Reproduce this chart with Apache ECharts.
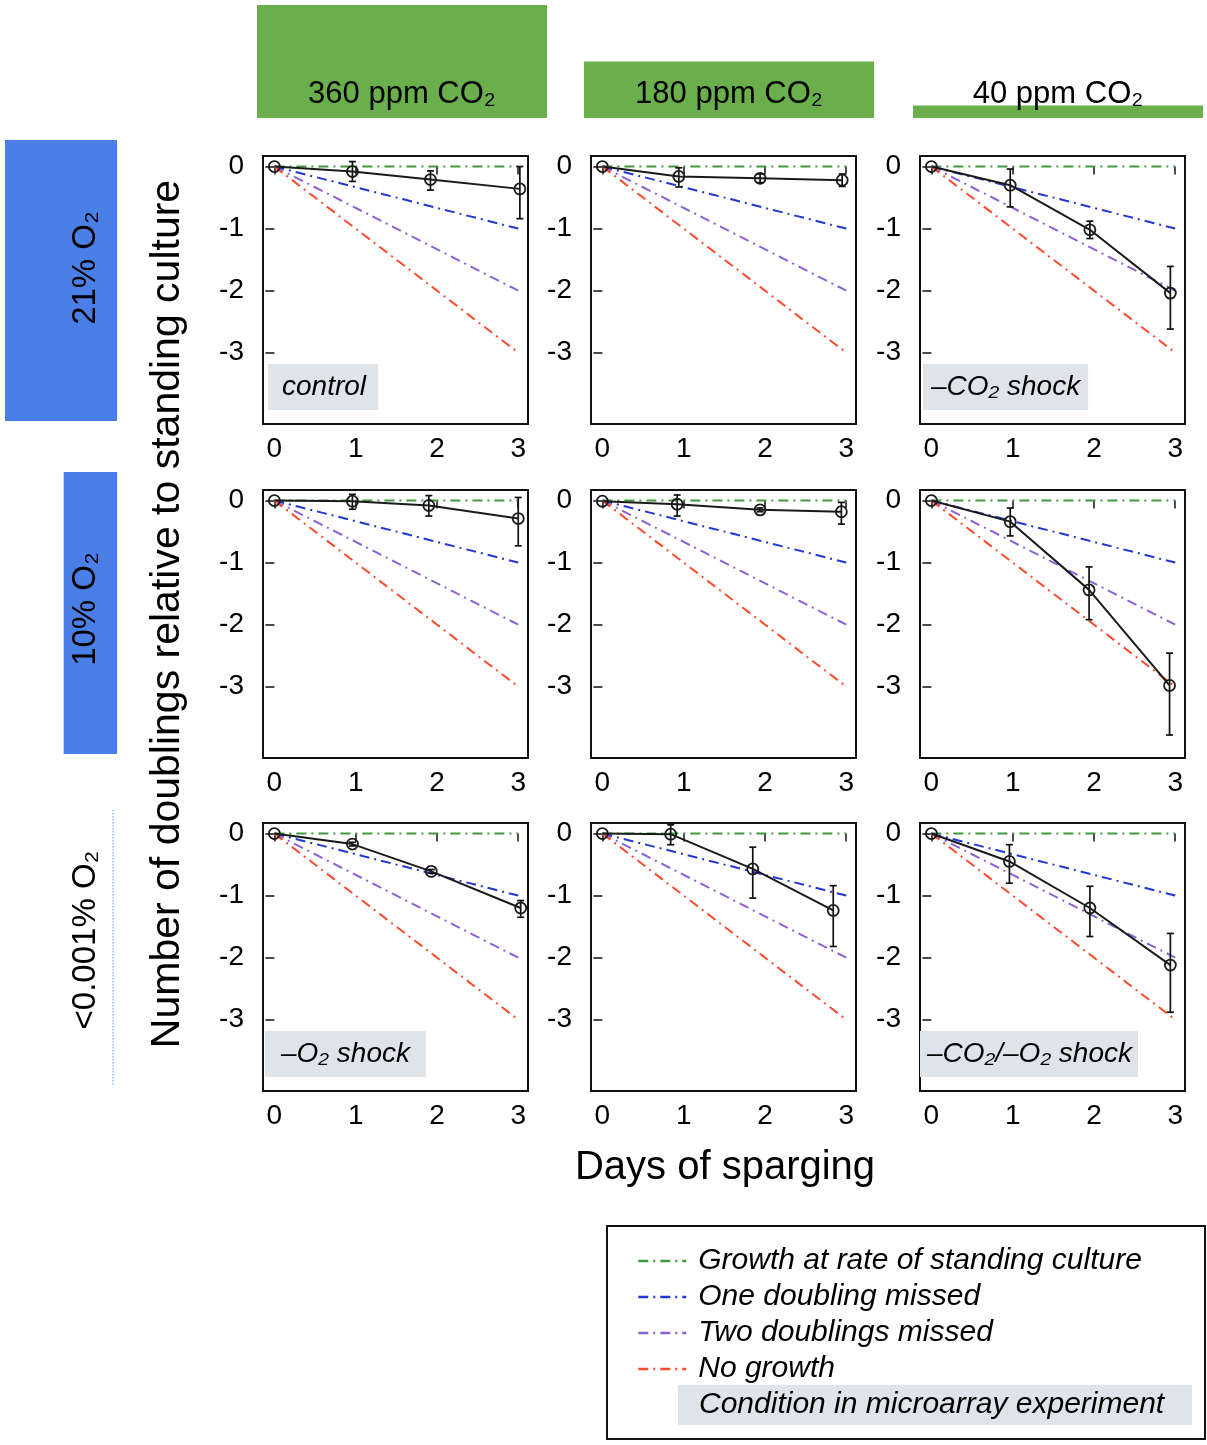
<!DOCTYPE html>
<html>
<head>
<meta charset="utf-8">
<script src="https://cdn.jsdelivr.net/npm/echarts@6/dist/echarts.min.js"></script>
<style>
html,body{margin:0;padding:0;background:#fff;}
#chart{width:1207px;height:1445px;}
</style>
</head>
<body>
<div id="chart"></div>
<script>
// ---------- data ----------
const co2Labels = ['360 ppm CO₂', '180 ppm CO₂', '40 ppm CO₂'];
const co2ppm = [360, 180, 40];
const o2Labels = ['21% O₂', '10% O₂', '<0.001% O₂'];
const o2pct = [21, 10, 0.001];
const xTicks = [0, 1, 2, 3];
const yTicks = [0, -1, -2, -3];

// reference lines: [day, doublings]
const refGrowth = [[0, 0], [3, 0]];
const refOne = [[0, 0], [3, -1]];
const refTwo = [[0, 0], [3, -2]];
const refNone = [[0, 0], [3, -3]];
const refNames = ['Growth at rate of standing culture', 'One doubling missed', 'Two doublings missed', 'No growth'];
const refColors = ['#3f9a3c', '#2237d4', '#8b62d6', '#ff4b2b'];

// measured points: [day, mean, lower error, upper error]
const panel21_360 = [[0, 0, 0, 0], [0.96, -0.08, -0.24, 0.08], [1.92, -0.21, -0.38, -0.07], [3.02, -0.36, -0.84, 0.0]];
const panel21_180 = [[0, 0, 0, 0], [0.94, -0.16, -0.33, -0.02], [1.94, -0.19, -0.26, -0.12], [2.95, -0.22, -0.32, -0.12]];
const panel21_40 = [[0, 0, 0, 0], [0.97, -0.30, -0.65, -0.04], [1.95, -1.02, -1.16, -0.88], [2.94, -2.04, -2.62, -1.61]];
const panel10_360 = [[0, 0, 0, 0], [0.96, -0.01, -0.14, 0.10], [1.90, -0.08, -0.25, 0.08], [3.00, -0.29, -0.73, 0.05]];
const panel10_180 = [[0, -0.01, -0.01, -0.01], [0.92, -0.06, -0.25, 0.09], [1.94, -0.15, -0.18, -0.12], [2.94, -0.18, -0.38, -0.03]];
const panel10_40 = [[0, 0, 0, 0], [0.97, -0.34, -0.57, -0.12], [1.94, -1.44, -1.92, -1.07], [2.93, -2.98, -3.78, -2.46]];
const panel0_360 = [[0, 0, 0, 0], [0.96, -0.17, -0.20, -0.14], [1.93, -0.61, -0.64, -0.58], [3.03, -1.20, -1.35, -1.08]];
const panel0_180 = [[0, 0, 0, 0], [0.84, -0.01, -0.18, 0.14], [1.85, -0.57, -1.04, -0.22], [2.84, -1.24, -1.82, -0.84]];
const panel0_40 = [[0, 0, 0, 0], [0.96, -0.45, -0.80, -0.18], [1.95, -1.20, -1.66, -0.85], [2.94, -2.12, -2.88, -1.61]];
const panelNotes = ['control', '', '–CO₂ shock', '', '', '', '–O₂ shock', '', '–CO₂/–O₂ shock'];
const legendExtra = 'Condition in microarray experiment';

// ---------- layout ----------
const FONT = "'Liberation Sans', Arial, Helvetica, sans-serif";
const panels = [panel21_360, panel21_180, panel21_40, panel10_360, panel10_180, panel10_40, panel0_360, panel0_180, panel0_40];
const refs = [refGrowth, refOne, refTwo, refNone];
const colLeft = [263, 591, 920];
const rowTop = [156, 490, 823];
const GW = 265, GH = 268;
const noteLayout = [
  {dx: 5, pad: [9, 12, 8, 14]}, null, {dx: 3, pad: [9, 8, 8, 8]},
  null, null, null,
  {dx: 2, pad: [9, 16, 8, 16]}, null, {dx: 0, pad: [9, 6, 8, 7]}
];

const grids = [], xAxes = [], yAxes = [], series = [], graphics = [];

panels.forEach((pd, i) => {
  const r = Math.floor(i / 3), c = i % 3;
  grids.push({left: colLeft[c], top: rowTop[r], width: GW, height: GH,
    show: true, borderColor: '#111', borderWidth: 2, backgroundColor: '#fff', containLabel: false});
  xAxes.push({type: 'value', gridIndex: i, min: -0.14, max: 3.12,
    axisLine: {show: false}, splitLine: {show: false},
    axisTick: {show: true, customValues: xTicks, length: 8, lineStyle: {color: '#111', width: 1.5}},
    axisLabel: {customValues: xTicks, fontSize: 28, fontFamily: FONT, color: '#000', margin: 11}});
  yAxes.push({type: 'value', gridIndex: i, min: -4.15, max: 0.17,
    axisLine: {show: false}, splitLine: {show: false},
    axisTick: {show: true, customValues: yTicks, length: 9, lineStyle: {color: '#111', width: 1.5}},
    axisLabel: {customValues: yTicks, fontSize: 28, fontFamily: FONT, color: '#000', margin: 19}});

  refs.forEach((rd, k) => {
    series.push({type: 'line', name: refNames[k], xAxisIndex: i, yAxisIndex: i, data: rd,
      symbol: 'none', silent: true, z: 2,
      lineStyle: {color: refColors[k], width: 2, type: [10, 5, 2, 5]},
      itemStyle: {color: refColors[k]}});
  });
  series.push({type: 'custom', name: 'err' + i, xAxisIndex: i, yAxisIndex: i, z: 4, silent: true,
    data: pd.map(p => [p[0], p[2], p[3]]),
    encode: {x: 0, y: [1, 2]},
    renderItem: function (params, api) {
      const x = api.value(0), lo = api.value(1), hi = api.value(2);
      if (lo === hi) return null;
      const a = api.coord([x, hi]), b = api.coord([x, lo]);
      const w = 3.5, st = {stroke: '#111', lineWidth: 1.7};
      return {type: 'group', children: [
        {type: 'line', shape: {x1: a[0], y1: a[1], x2: b[0], y2: b[1]}, style: st},
        {type: 'line', shape: {x1: a[0] - w, y1: a[1], x2: a[0] + w, y2: a[1]}, style: st},
        {type: 'line', shape: {x1: b[0] - w, y1: b[1], x2: b[0] + w, y2: b[1]}, style: st}
      ]};
    }});
  series.push({type: 'line', name: 'mean' + i, xAxisIndex: i, yAxisIndex: i, z: 5, silent: true,
    data: pd.map(p => [p[0], p[1]]),
    symbol: 'circle', symbolSize: 11,
    lineStyle: {color: '#1a1a1a', width: 2},
    itemStyle: {color: 'rgba(255,255,255,0)', borderColor: '#1a1a1a', borderWidth: 1.8}});

  if (panelNotes[i]) {
    const nl = noteLayout[i];
    graphics.push({type: 'text', x: colLeft[c] + nl.dx, y: rowTop[r] + 208, z: 3,
      style: {text: panelNotes[i], fontSize: 28, fontStyle: 'italic', fontFamily: FONT, fill: '#000',
        backgroundColor: '#dfe4ea', padding: nl.pad, lineHeight: 29}});
  }
});

// CO2 header boxes (height proportional to ppm)
const headLeft = [257, 584, 913], headW = 290, headBottom = 118, headScale = 113 / 360;
co2ppm.forEach((v, k) => {
  const h = v * headScale;
  graphics.push({type: 'rect', shape: {x: headLeft[k], y: headBottom - h, width: headW, height: h},
    style: {fill: '#6aaf4c'}});
  graphics.push({type: 'text', x: headLeft[k] + headW / 2, y: 94, z: 10,
    style: {text: co2Labels[k], fontSize: 31, fontFamily: FONT, fill: '#000', align: 'center', verticalAlign: 'middle'}});
});

// O2 side boxes (width proportional to percent)
const sideRight = 117, sideScale = 112 / 21;
const sideTop = [140, 472, 810], sideH = [281, 282, 275];
o2pct.forEach((v, k) => {
  const w = v * sideScale;
  if (w > 2) {
    graphics.push({type: 'rect', shape: {x: sideRight - w, y: sideTop[k], width: w, height: sideH[k]},
      style: {fill: '#4b7fe8'}});
  } else {
    graphics.push({type: 'line', shape: {x1: sideRight - 4, y1: sideTop[k], x2: sideRight - 4, y2: sideTop[k] + sideH[k]},
      style: {stroke: '#7fa6f0', lineWidth: 1.2, lineDash: [1.5, 1.5]}});
  }
});
const sideCenterY = [268, 609, 940];
o2Labels.forEach((t, k) => {
  graphics.push({type: 'text', x: 86, y: sideCenterY[k], rotation: Math.PI / 2, z: 10,
    style: {text: t, fontSize: 33, fontFamily: FONT, fill: '#000', align: 'center', verticalAlign: 'middle'}});
});

// axis titles
graphics.push({type: 'text', x: 168, y: 614, rotation: Math.PI / 2,
  style: {text: 'Number of doublings relative to standing culture', fontSize: 41, fontFamily: FONT, fill: '#000',
    align: 'center', verticalAlign: 'middle'}});
graphics.push({type: 'text', x: 725, y: 1168,
  style: {text: 'Days of sparging', fontSize: 40, fontFamily: FONT, fill: '#000', align: 'center', verticalAlign: 'middle'}});

// legend frame and extra entry
graphics.push({type: 'rect', shape: {x: 607, y: 1226, width: 598, height: 213},
  style: {fill: 'none', stroke: '#111', lineWidth: 2}});
graphics.push({type: 'text', x: 678, y: 1385,
  style: {text: legendExtra, fontSize: 30, fontStyle: 'italic', fontFamily: FONT, fill: '#000',
    backgroundColor: '#dfe4ea', padding: [5, 14, 5, 21], lineHeight: 30, width: 479}});

const chart = echarts.init(document.getElementById('chart'), null, {renderer: 'canvas'});
chart.setOption({
  backgroundColor: '#fff',
  animation: false,
  grid: grids,
  xAxis: xAxes,
  yAxis: yAxes,
  legend: {
    data: refNames, orient: 'vertical', left: 632, top: 1241,
    itemWidth: 48, itemHeight: 12, itemGap: 6, selectedMode: false,
    itemStyle: {opacity: 0},
    lineStyle: {width: 2.5},
    textStyle: {fontSize: 30, fontStyle: 'italic', fontFamily: FONT, color: '#000', lineHeight: 30, padding: [0, 0, 0, 7]}
  },
  series: series,
  graphic: graphics
});
</script>
</body>
</html>
